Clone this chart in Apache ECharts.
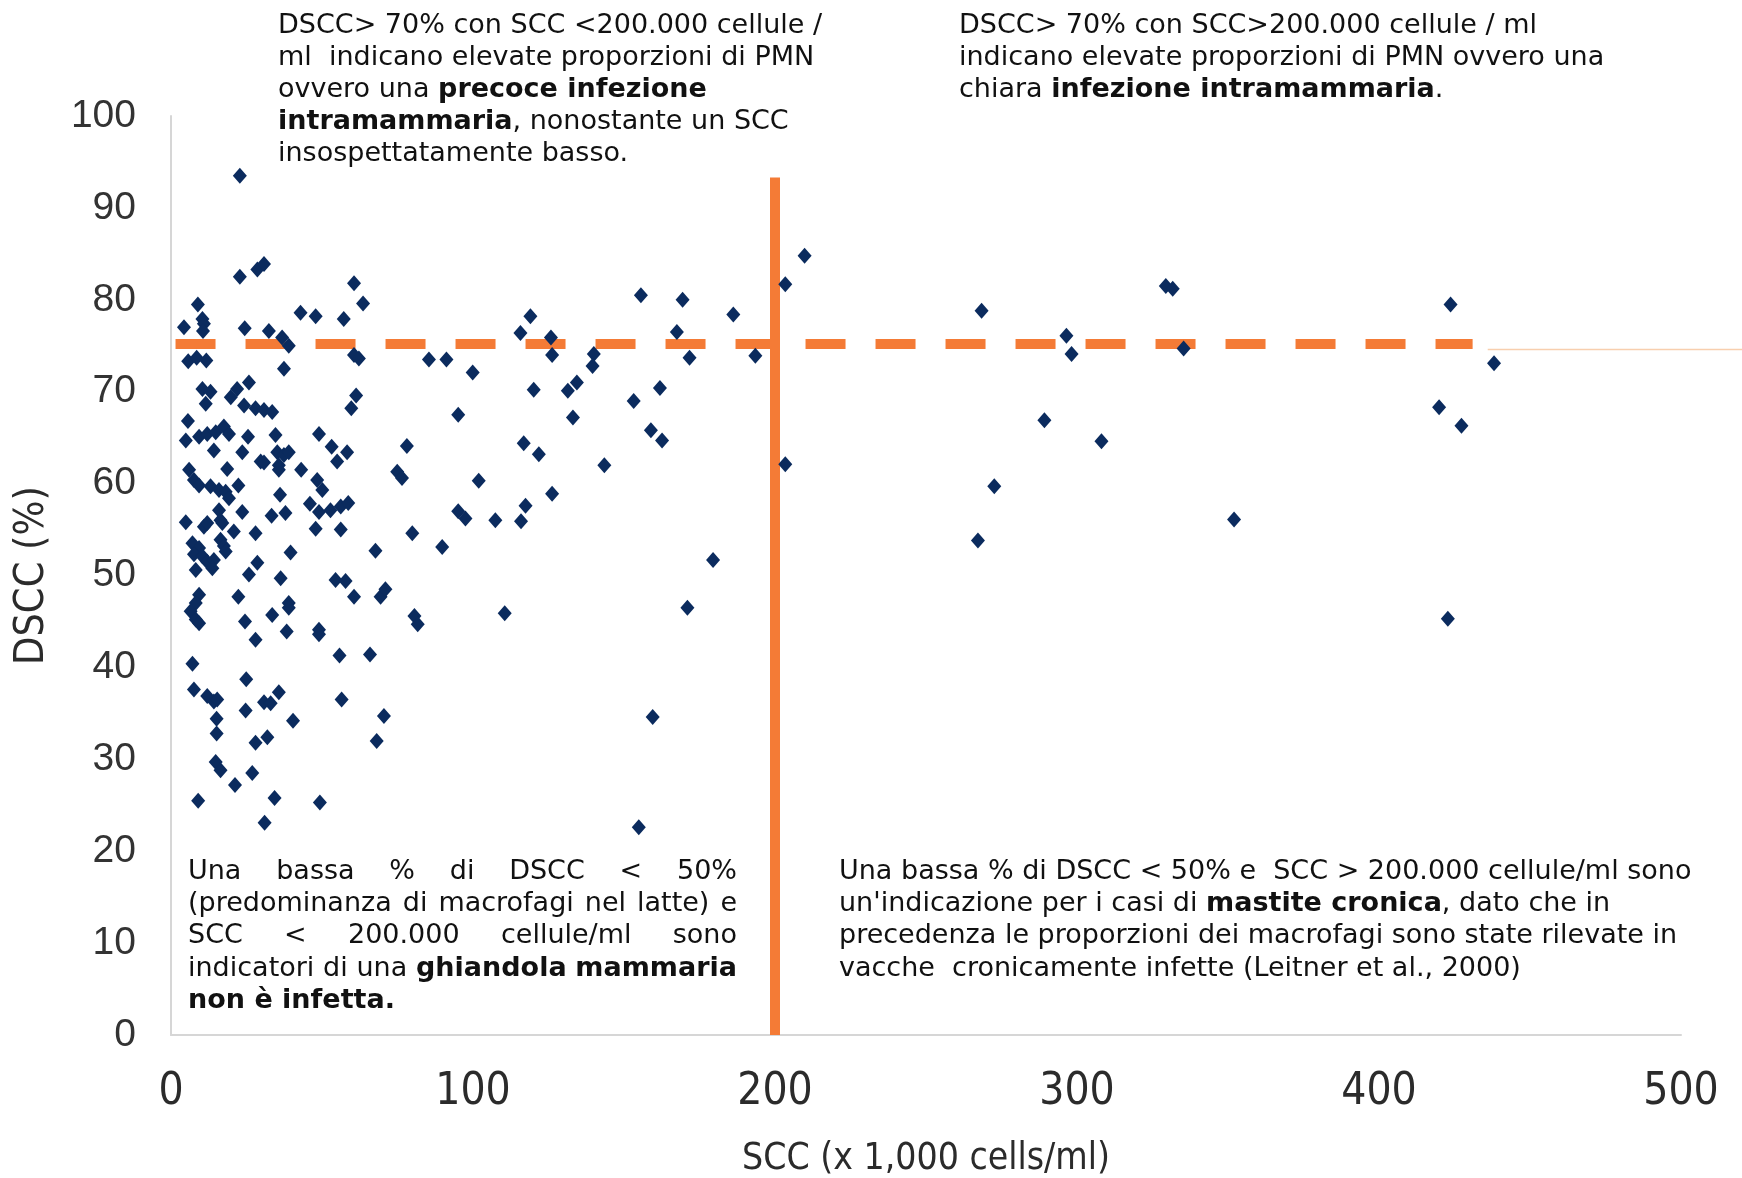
<!DOCTYPE html>
<html><head><meta charset="utf-8">
<script src="https://cdn.jsdelivr.net/npm/echarts@6/dist/echarts.min.js"></script>
<style>html,body{margin:0;padding:0;background:#fff}#c{width:1742px;height:1178px}</style>
</head><body><div id="c"></div>
<script>
// ---- data (SCC x1000 cells/ml, DSCC %) ----
const pointsLowScc = [
 [22.8,93.5],[22.8,82.5],[28.6,83.3],[30.8,83.9],[8.9,79.5],[10.4,77.9],[10.9,77.4],[10.6,76.6],[4.3,77.0],[24.4,76.9],
 [32.4,76.6],[36.8,75.9],[39.0,75.0],[42.9,78.6],[47.9,78.2],[57.2,77.9],[60.6,81.8],[63.6,79.6],[60.6,74.0],[62.2,73.6],
 [5.7,73.3],[8.5,73.7],[11.7,73.4],[37.4,72.5],[85.4,73.5],[91.2,73.5],[99.9,72.1],[10.4,70.3],[13.1,70.0],[11.5,68.7],
 [25.8,71.0],[21.9,70.3],[19.8,69.4],[24.2,68.5],[28.0,68.2],[30.8,68.0],[33.5,67.8],[61.3,69.6],[59.7,68.2],[5.6,66.8],
 [4.9,64.7],[9.3,65.1],[12.0,65.4],[14.8,65.6],[17.5,66.2],[19.2,65.4],[14.2,63.6],[25.5,65.1],[23.6,63.4],[34.6,65.3],
 [35.2,63.4],[37.4,63.1],[39.0,63.4],[29.7,62.4],[30.8,62.3],[35.7,62.0],[35.7,61.5],[49.0,65.4],[53.2,64.0],[55.0,62.4],
 [58.3,63.4],[43.1,61.5],[48.4,60.4],[50.1,59.3],[78.1,64.1],[74.9,61.3],[76.5,60.6],[18.6,61.6],[22.3,59.8],[6.0,61.5],
 [7.6,60.4],[9.3,59.8],[13.1,59.7],[15.9,59.3],[18.1,59.1],[19.2,58.4],[36.1,58.8],[4.9,55.8],[10.9,55.3],[12.0,55.7],
 [15.9,57.1],[16.4,56.0],[17.0,55.7],[20.8,54.8],[23.6,56.9],[28.0,54.6],[33.3,56.5],[37.9,56.8],[46.0,57.8],[49.0,56.9],
 [52.8,57.1],[56.2,57.5],[58.7,57.9],[47.9,55.1],[56.2,55.0],[7.1,53.5],[9.3,53.0],[7.6,52.3],[10.4,52.1],[12.0,51.5],
 [14.2,51.7],[13.7,50.8],[8.2,50.6],[16.4,53.9],[17.5,53.2],[18.1,52.6],[39.6,52.5],[67.7,52.7],[25.8,50.1],[28.6,51.4],
 [36.3,49.7],[54.5,49.5],[57.8,49.4],[60.6,47.7],[69.4,47.7],[71.0,48.5],[9.3,47.9],[8.2,47.0],[6.5,46.1],[8.2,45.2],
 [9.3,44.8],[22.3,47.7],[24.5,45.0],[28.0,43.0],[33.5,45.7],[39.0,47.0],[39.0,46.5],[38.3,43.9],[49.0,44.1],[49.0,43.6],
 [7.1,40.4],[55.8,41.3],[65.9,41.4],[24.9,38.7],[7.6,37.6],[12.0,36.9],[14.2,36.3],[15.3,36.5],[24.7,35.3],[30.8,36.2],
 [33.0,36.1],[35.7,37.3],[56.5,36.5],[40.4,34.2],[70.5,34.7],[68.1,32.0],[15.1,34.4],[15.1,32.8],[28.0,31.8],[31.9,32.4],
 [14.8,29.7],[16.4,28.8],[26.9,28.5],[21.2,27.2],[9.0,25.5],[34.3,25.8],[49.3,25.3],[31.0,23.1],
 [95.1,67.5],[101.9,60.3],[116.8,64.4],[121.8,63.2],[126.2,58.9],[117.4,57.6],[115.9,55.9],[95.1,57.0],[97.5,56.2],[107.4,56.0],
 [79.9,54.6],[89.8,53.1],[80.6,45.6],[81.7,44.7],[110.5,45.9],[119.0,78.2],[115.7,76.4],[125.8,75.9],[126.2,74.0],[120.1,70.2],
 [131.4,70.1],[134.4,71.0],[133.1,67.2],[140.0,74.1],[139.6,72.8],[143.5,62.0],[153.2,69.0],[155.6,80.5],[158.9,65.8],[162.6,64.7],
 [161.9,70.4],[169.4,80.0],[167.5,76.5],[171.7,73.7],[186.2,78.4],[193.5,73.9],[179.5,51.7],[171.0,46.5],[159.5,34.6],[154.9,22.6]
];
const pointsHighScc = [
 [203.4,81.7],[203.4,62.1],[209.8,84.8],[268.4,78.8],[289.2,66.9],[272.6,59.7],[267.2,53.8],[296.5,76.1],[298.2,74.1],[308.1,64.6],
 [329.4,81.5],[331.7,81.2],[335.3,74.7],[352.0,56.1],[423.7,79.5],[419.9,68.3],[427.3,66.3],[438.1,73.1],[422.8,45.3]
];
const dsccThreshold = 75.2;    // horizontal dashed line
const dsccLineRange = [1.5, 431];
const sccThreshold = 200;      // vertical line
const sccLineRange = [0, 93.3];
const faintLine = [[436, 74.6], [520, 74.6]];
const xTicks = {min: 0, max: 500, interval: 100};
const yTicks = {min: 0, max: 100, interval: 10};
const xAxisTitle = 'SCC (x 1,000 cells/ml)';
const yAxisTitle = 'DSCC (%)';

// ---- annotation texts: lines of [text, bold] runs ----
const topLeftLines = [
 [['DSCC> 70% con SCC <200.000 cellule /', 0]],
 [['ml  indicano elevate proporzioni di PMN', 0]],
 [['ovvero una ', 0], ['precoce infezione', 1]],
 [['intramammaria', 1], [', nonostante un SCC', 0]],
 [['insospettatamente basso.', 0]]
];
const topRightLines = [
 [['DSCC> 70% con SCC>200.000 cellule / ml', 0]],
 [['indicano elevate proporzioni di PMN ovvero una', 0]],
 [['chiara ', 0], ['infezione intramammaria', 1], ['.', 0]]
];
const bottomLeftLines = [
 [['Una bassa % di DSCC < 50%', 0]],
 [['(predominanza di macrofagi nel latte) e', 0]],
 [['SCC < 200.000 cellule/ml sono', 0]],
 [['indicatori di una ', 0], ['ghiandola mammaria', 1]],
 [['non è infetta.', 1]]
];
const bottomRightLines = [
 [['Una bassa % di DSCC < 50% e  SCC > 200.000 cellule/ml sono', 0]],
 [["un'indicazione per i casi di ", 0], ['mastite cronica', 1], [', dato che in', 0]],
 [['precedenza le proporzioni dei macrofagi sono state rilevate in', 0]],
 [['vacche  cronicamente infette (Leitner et al., 2000)', 0]]
];

const NAVY = '#0b2b5e', ORANGE = '#f47b36';
const FS = 27, FONT = '"DejaVu Sans", Verdana, sans-serif', LH = 32.2, TXT = '#111111';
const COND = '"DejaVu Sans Condensed", "Liberation Sans Narrow", "Liberation Sans", sans-serif';

const mctx = document.createElement('canvas').getContext('2d');
function tw(t, b) { mctx.font = (b ? 'bold ' : '') + FS + 'px ' + FONT; return mctx.measureText(t).width; }
function txt(x, y, t, b) {
  return {type: 'text', x: x, y: y, silent: true,
    style: {text: t, fontFamily: FONT, fontSize: FS, fontWeight: b ? 'bold' : 'normal', fill: TXT, align: 'left', verticalAlign: 'middle'}};
}
function block(lines, x0, y0, justifyWidth) {
  const els = [];
  lines.forEach((runs, i) => {
    const y = y0 + i * LH;
    const justify = justifyWidth && i < lines.length - 1;
    if (justify) {
      const words = [];
      runs.forEach(([t, b]) => t.split(/\s+/).filter(s => s.length).forEach(w => words.push([w, b])));
      const total = words.reduce((s, [w, b]) => s + tw(w, b), 0);
      const gap = (justifyWidth - total) / (words.length - 1);
      let x = x0;
      words.forEach(([w, b]) => { els.push(txt(x, y, w, b)); x += tw(w, b) + gap; });
    } else {
      let x = x0;
      runs.forEach(([t, b]) => { els.push(txt(x, y, t, b)); x += tw(t, b); });
    }
  });
  return els;
}

const graphics = [].concat(
  block(topLeftLines, 278, 25.5),
  block(topRightLines, 959, 25.5),
  block(bottomLeftLines, 188, 872, 549),
  block(bottomRightLines, 839, 872)
);

const chart = echarts.init(document.getElementById('c'), null, {renderer: 'canvas'});
chart.setOption({
  animation: false,
  backgroundColor: '#ffffff',
  grid: {left: 171, top: 116, width: 1510, height: 919, containLabel: false, outerBoundsMode: 'none'},
  xAxis: {
    type: 'value', min: xTicks.min, max: xTicks.max, interval: xTicks.interval,
    name: xAxisTitle, nameLocation: 'middle', nameGap: 106,
    nameTextStyle: {fontFamily: COND, fontSize: 37, color: '#2b2b2b'},
    axisLine: {show: true, onZero: false, lineStyle: {color: '#d6d6d6', width: 2}},
    axisTick: {show: false}, splitLine: {show: false},
    axisLabel: {fontFamily: COND, fontSize: 44, color: '#2b2b2b', margin: 36}
  },
  yAxis: {
    type: 'value', min: yTicks.min, max: yTicks.max, interval: yTicks.interval,
    name: yAxisTitle, nameLocation: 'middle', nameGap: 118, nameRotate: 90,
    nameTextStyle: {fontFamily: COND, fontSize: 41, color: '#2b2b2b'},
    axisLine: {show: true, onZero: false, lineStyle: {color: '#d6d6d6', width: 2}},
    axisTick: {show: false}, splitLine: {show: false},
    axisLabel: {fontFamily: '"Liberation Sans", Arial, sans-serif', fontSize: 39, color: '#333333', margin: 35}
  },
  series: [
    {type: 'line', data: [[dsccLineRange[0], dsccThreshold], [dsccLineRange[1], dsccThreshold]], symbol: 'none', silent: true, z: 2,
     lineStyle: {color: ORANGE, width: 10, type: [40, 30], cap: 'butt'}},
    {type: 'line', data: [[sccThreshold, sccLineRange[0]], [sccThreshold, sccLineRange[1]]], symbol: 'none', silent: true, z: 2,
     lineStyle: {color: ORANGE, width: 10, cap: 'butt'}},
    {type: 'scatter', data: pointsLowScc.concat(pointsHighScc), symbol: 'diamond', symbolSize: [14, 16], z: 3,
     itemStyle: {color: NAVY, opacity: 1}}
  ],
  graphic: graphics
});

// faint continuation line (extends past the plot to the page edge), positioned via the axis scales
const p1 = chart.convertToPixel({gridIndex: 0}, faintLine[0]);
const p2 = chart.convertToPixel({gridIndex: 0}, faintLine[1]);
chart.setOption({graphic: graphics.concat([{
  type: 'line', silent: true, z: 1,
  shape: {x1: p1[0], y1: p1[1], x2: Math.max(p2[0], 1742), y2: p2[1]},
  style: {stroke: '#f8cfae', lineWidth: 1.5}
}])});
</script>
</body></html>
